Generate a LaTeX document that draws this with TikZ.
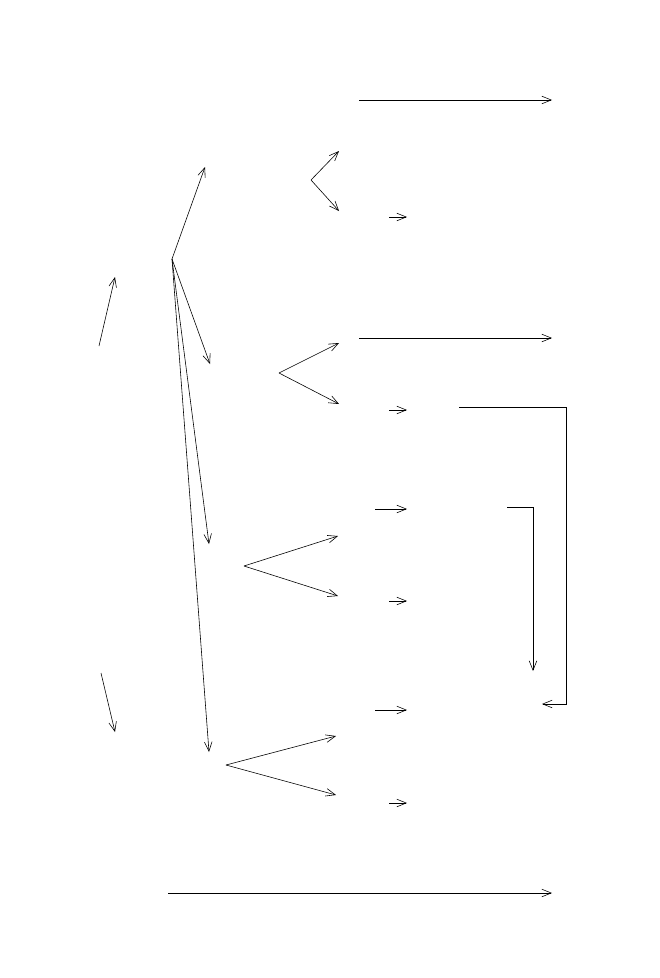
\documentclass[tikz,border=0pt]{standalone}
\usepackage{amssymb,amsmath}
\usetikzlibrary{arrows.meta}

\begin{document}
\begin{tikzpicture}[x=0.03cm, y=-0.03cm, line width=0.5pt, >={Straight Barb[length=8pt,width=6.5pt]}]
\useasboundingbox (0,0) rectangle (659,978);
% Draw hub points
\coordinate (hub) at (172,259);
\coordinate (forkA) at (311,180);
\coordinate (forkB) at (279,373);
\coordinate (forkC) at (244,566);
\coordinate (forkD) at (226,765);
% Draw left arrows
\draw[->] (99,346) -- (115,277);
\draw[->] (101,673) -- (115,732);
% Draw arrows from the hub
\foreach \x/\y in {205/167, 210/364, 209/544, 209/752}
    \draw[->] (hub) -- (\x,\y);
% Draw forks
\draw[->] (forkA) -- (339,151);
\draw[->] (forkA) -- (339,211);
\draw[->] (forkB) -- (339,343);
\draw[->] (forkB) -- (339,404);
\draw[->] (forkC) -- (338,536);
\draw[->] (forkC) -- (338,596);
\draw[->] (forkD) -- (336,736);
\draw[->] (forkD) -- (336,795);
% Draw short arrows
\foreach \y in {217, 410, 601, 803}
    \draw[->] (389,\y) -- (407,\y);
\foreach \y in {509, 710}
    \draw[->] (375,\y) -- (407,\y);
% Draw long arrows
\draw[->] (359,100) -- (552,100);
\draw[->] (359,338) -- (552,338);
\draw[->] (168,893) -- (552,893);
% Draw brackets
\draw[->] (459,407) -- (566,407) -- (566,704) -- (542,704);
\draw[->] (507,507) -- (533,507) -- (533,671);
\end{tikzpicture}
\end{document}
